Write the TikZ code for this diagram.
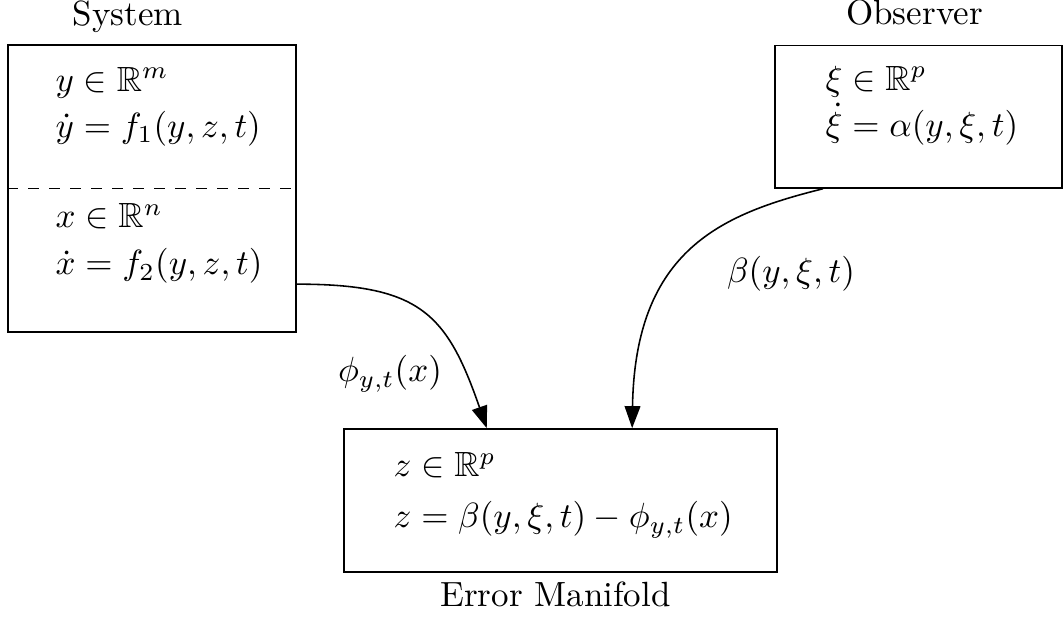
\documentclass[tikz,border=0pt]{standalone}
\usepackage{amsmath,amssymb}
\usetikzlibrary{arrows.meta}
\tikzset{
  blk/.style={draw, line width=0.45pt, inner sep=0pt},
  eqn/.style={anchor=base west, inner sep=0pt},
  ttl/.style={anchor=base, inner sep=0pt},
  flow/.style={line width=0.45pt, -{Triangle[length=6.3pt,width=4.5pt]}}
}
\begin{document}
\begin{tikzpicture}
\useasboundingbox (0,0) rectangle (10.673,6.235);
% boxes
\node[blk, minimum width=2.892cm, minimum height=2.881cm] (sys) at (1.526,4.342) {};
\node[blk, minimum width=2.881cm, minimum height=1.431cm] (obs) at (9.222,5.063) {};
\node[blk, minimum width=4.347cm, minimum height=1.436cm] (err) at (5.627,1.210) {};
\draw[line width=0.45pt, dashed] (sys.west) -- (sys.east);
% titles
\node[ttl] (systitle) at (1.285,5.974) {System};
\node[ttl] (obstitle) at (9.182,5.984) {Observer};
\node[ttl] (errtitle) at (5.577,0.15) {Error Manifold};
% contents
\node[eqn] (ydom) at (0.552,5.321) {$y \in \mathbb{R}^m$};
\node[eqn] (ydot) at (0.552,4.859) {$\dot{y} = f_1(y,z,t)$};
\node[eqn] (xdom) at (0.552,3.946) {$x \in \mathbb{R}^n$};
\node[eqn] (xdot) at (0.552,3.474) {$\dot{x} = f_2(y,z,t)$};
\node[eqn] (xidom) at (8.283,5.331) {$\xi \in \mathbb{R}^p$};
\node[eqn] (xidot) at (8.283,4.869) {$\dot{\xi} = \alpha(y,\xi,t)$};
\node[eqn] (zdom) at (3.946,1.446) {$z \in \mathbb{R}^p$};
\node[eqn] (zdef) at (3.946,0.934) {$z = \beta(y,\xi,t) - \phi_{y,t}(x)$};
% maps
\draw[flow] ([yshift=-0.96cm]sys.east) .. controls +(1.24,0) and +(-0.40,1.15) .. ([xshift=-0.74cm]err.north);
\draw[flow] ([xshift=-0.96cm]obs.south) .. controls +(-1.004,-0.251) and +(0.03,1.8) .. ([xshift=0.72cm]err.north);
\node[ttl] (philbl) at (3.916,2.40) {$\phi_{y,t}(x)$};
\node[ttl] (betalbl) at (7.942,3.394) {$\beta(y,\xi,t)$};
\end{tikzpicture}
\end{document}
